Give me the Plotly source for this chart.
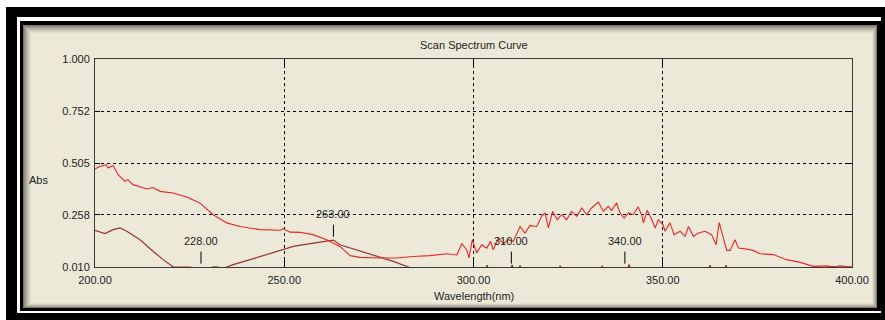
import numpy as np
import plotly.graph_objects as go

# ---- spectrum data -------------------------------------------------------
# Scan 1 (bright red)
wl_scan1 = [200.0, 201.3, 202.9, 203.5, 204.2, 204.8, 206.1, 206.9, 207.9, 208.7,
            210.0, 211.9, 213.7, 215.3, 217.2, 220.6, 224.2, 227.7, 231.2, 234.8,
            238.3, 243.6, 248.9, 249.7, 251.5, 254.2, 257.6, 261.2, 264.7, 267.4,
            270.0, 275.3, 279.7, 284.0, 288.5, 292.9, 295.6, 296.9, 298.2, 298.8,
            299.7, 300.8, 302.2, 303.5, 304.5, 305.2, 306.6, 307.9, 309.2, 310.5,
            312.3, 313.6, 314.9, 316.7, 318.0, 318.9, 319.8, 320.9, 322.1, 323.3,
            324.6, 325.9, 327.3, 328.6, 329.9, 331.2, 333.0, 334.3, 335.6, 336.5,
            337.8, 338.7, 339.8, 340.9, 342.2, 343.5, 344.4, 344.9, 345.9, 347.1,
            348.0, 348.8, 350.1, 350.6, 351.9, 353.0, 354.6, 355.9, 356.8, 358.1,
            359.4, 361.2, 362.9, 364.1, 364.9, 366.9, 367.8, 369.1, 370.0, 372.2,
            373.9, 375.7, 379.2, 382.7, 386.3, 389.8, 393.3, 395.1, 396.8, 400.0]
abs_scan1 = [0.477, 0.488, 0.497, 0.481, 0.488, 0.492, 0.449, 0.435, 0.418, 0.426,
             0.402, 0.392, 0.381, 0.388, 0.370, 0.362, 0.343, 0.315, 0.259, 0.220,
             0.203, 0.188, 0.185, 0.192, 0.176, 0.175, 0.164, 0.140, 0.108, 0.064,
             0.056, 0.053, 0.053, 0.060, 0.064, 0.073, 0.067, 0.120, 0.092, 0.053,
             0.140, 0.077, 0.116, 0.100, 0.132, 0.092, 0.148, 0.121, 0.140, 0.132,
             0.203, 0.172, 0.207, 0.203, 0.251, 0.267, 0.196, 0.275, 0.235, 0.259,
             0.235, 0.275, 0.251, 0.291, 0.259, 0.291, 0.319, 0.275, 0.299, 0.280,
             0.315, 0.267, 0.243, 0.267, 0.259, 0.296, 0.259, 0.220, 0.280, 0.235,
             0.196, 0.235, 0.211, 0.180, 0.220, 0.164, 0.180, 0.156, 0.203, 0.156,
             0.172, 0.180, 0.164, 0.116, 0.222, 0.089, 0.089, 0.140, 0.100, 0.095,
             0.089, 0.073, 0.069, 0.045, 0.032, 0.013, 0.016, 0.010, 0.016, 0.010]

# Scan 2 (dark red)
wl_scan2 = [200.0, 202.6, 204.8, 206.6, 208.4, 211.9, 215.4, 218.0, 220.7, 222.5,
            225.1, 226.5, 228.0, 230.0, 231.3, 232.5, 233.5, 234.8, 236.5, 241.0,
            245.4, 249.8, 252.4, 257.7, 260.3, 263.0, 264.7, 269.1, 274.4, 278.8,
            282.8, 285.0, 290.0, 295.0, 300.0, 303.0, 303.6, 304.2, 308.0, 309.6,
            310.2, 310.8, 311.8, 312.3, 312.8, 318.0, 322.3, 322.9, 323.5, 328.0,
            333.4, 334.0, 334.6, 338.0, 340.5, 341.1, 341.7, 350.0, 361.9, 362.5,
            363.1, 366.1, 366.7, 367.3, 375.0, 385.0, 390.7, 392.5, 394.5, 396.5,
            399.5, 400.0]
abs_scan2 = [0.184, 0.169, 0.188, 0.196, 0.180, 0.140, 0.084, 0.045, 0.010, 0.011,
             0.010, 0.002, -0.004, 0.002, 0.011, 0.010, 0.004, 0.010, 0.021, 0.045,
             0.069, 0.092, 0.108, 0.124, 0.132, 0.138, 0.116, 0.092, 0.060, 0.037,
             0.010, -0.008, -0.020, -0.025, -0.020, -0.010, 0.018, -0.010, -0.012, -0.010,
             0.020, -0.010, -0.010, 0.018, -0.010, -0.015, -0.010, 0.016, -0.010, -0.015,
             -0.010, 0.016, -0.010, -0.012, -0.010, 0.022, -0.010, -0.020, -0.010, 0.018,
             -0.010, -0.010, 0.018, -0.010, -0.015, -0.005, 0.011, 0.008, 0.012, 0.009,
             0.011, 0.010]

# Marked peaks / valleys of scan 2
peak_wl = [228.0, 263.0, 310.0, 340.0]
peak_labels = ["228.00", "263.00", "310.00", "340.00"]

# Axis ticks
x_ticks = [200, 250, 300, 350, 400]
x_ticklabels = ["200.00", "250.00", "300.00", "350.00", "400.00"]
y_ticks = [0.010, 0.258, 0.505, 0.752, 1.000]
y_ticklabels = ["0.010", "0.258", "0.505", "0.752", "1.000"]

# ---- layout geometry (pixels) --------------------------------------------
W, H = 885, 320
ML, MR, MT, MB = 95, 33, 59, 53
PW, PH = W - ML - MR, H - MT - MB
Y0, Y1 = 0.010, 1.000
PX_PER_UNIT = PH / (Y1 - Y0)

FONT = "Liberation Sans, Arial, sans-serif"
TEXT = "#1e1e1e"
PANEL = "#ece9d8"


def px_x(px):
    return (px - ML) / PW


def px_y(py):
    return (H - MB - py) / PH


def rect(x0, y0, x1, y1, fill=None, line=None, width=1):
    return dict(type="rect", xref="paper", yref="paper", layer="below",
                x0=px_x(x0), x1=px_x(x1), y0=px_y(y1), y1=px_y(y0),
                fillcolor=fill if fill else "rgba(0,0,0,0)",
                line=dict(color=line if line else "rgba(0,0,0,0)", width=width if line else 0))


shapes = [
    rect(6, 7, W, H, fill="#000000"),
    rect(17, 17, 881, 313, fill="#ffffff"),
    rect(20, 21, 881, 311, fill="#000000"),
    rect(23, 25, 877, 308, fill=PANEL),
]

# soft inner shadow around the panel edge
shade_from = np.array([0x74, 0x72, 0x68])
shade_to = np.array([0xec, 0xe9, 0xd8])
for k in range(9):
    t = (k / 8) ** 0.7
    c = (shade_from * (1 - t) + shade_to * t).astype(int)
    shapes.append(rect(23.5 + k, 25.5 + k, 876.5 - 0.6 * k, 307.5 - 0.6 * k,
                       line="rgb(%d,%d,%d)" % tuple(c), width=1))

# peak markers on scan 2
TICK_GAP = 3.4 / PX_PER_UNIT
TICK_LEN = 12 / PX_PER_UNIT
annotations = []
for wl, lab in zip(peak_wl, peak_labels):
    base = max(float(np.interp(wl, wl_scan2, abs_scan2)), Y0) + TICK_GAP
    top = base + TICK_LEN
    shapes.append(dict(type="line", xref="x", yref="y", x0=wl, x1=wl, y0=base, y1=top,
                       line=dict(color="#000000", width=1)))
    annotations.append(dict(x=wl, y=top, xref="x", yref="y", text=lab, showarrow=False,
                            yanchor="middle", yshift=11,
                            font=dict(family=FONT, size=11, color=TEXT)))

annotations += [
    dict(x=0.5, y=px_y(45), xref="paper", yref="paper", text="Scan Spectrum Curve",
         showarrow=False, xanchor="center", yanchor="middle",
         font=dict(family=FONT, size=11, color=TEXT)),
    dict(x=px_x(38.5), y=px_y(179.5), xref="paper", yref="paper", text="Abs",
         showarrow=False, xanchor="center", yanchor="middle",
         font=dict(family=FONT, size=11, color=TEXT)),
    dict(x=0.5, y=px_y(296), xref="paper", yref="paper", text="Wavelength(nm)",
         showarrow=False, xanchor="center", yanchor="middle",
         font=dict(family=FONT, size=11, color=TEXT)),
]

fig = go.Figure()
fig.add_trace(go.Scatter(x=wl_scan2, y=abs_scan2, mode="lines",
                         line=dict(color="#9a3232", width=1.2), showlegend=False))
fig.add_trace(go.Scatter(x=wl_scan1, y=abs_scan1, mode="lines",
                         line=dict(color="#ec2626", width=1.1), showlegend=False))

axis_common = dict(showgrid=True, gridcolor="#000000", gridwidth=1, griddash="3px,3px",
                   showline=True, linecolor="#3a3a3a", linewidth=1, mirror="ticks",
                   ticks="inside", tickcolor="#000000", zeroline=False,
                   tickfont=dict(family=FONT, size=11, color=TEXT))

fig.update_xaxes(range=[200, 400], tickvals=x_ticks, ticktext=x_ticklabels,
                 ticklen=7, ticklabelstandoff=3, **axis_common)
fig.update_yaxes(range=[Y0, Y1], tickvals=y_ticks, ticktext=y_ticklabels,
                 ticklen=5, ticklabelstandoff=2, **axis_common)

fig.update_layout(width=W, height=H, margin=dict(l=ML, r=MR, t=MT, b=MB),
                  paper_bgcolor="#ffffff", plot_bgcolor="#ffffff",
                  shapes=shapes, annotations=annotations, showlegend=False)

fig.write_html("out.html", config={"displayModeBar": False})
